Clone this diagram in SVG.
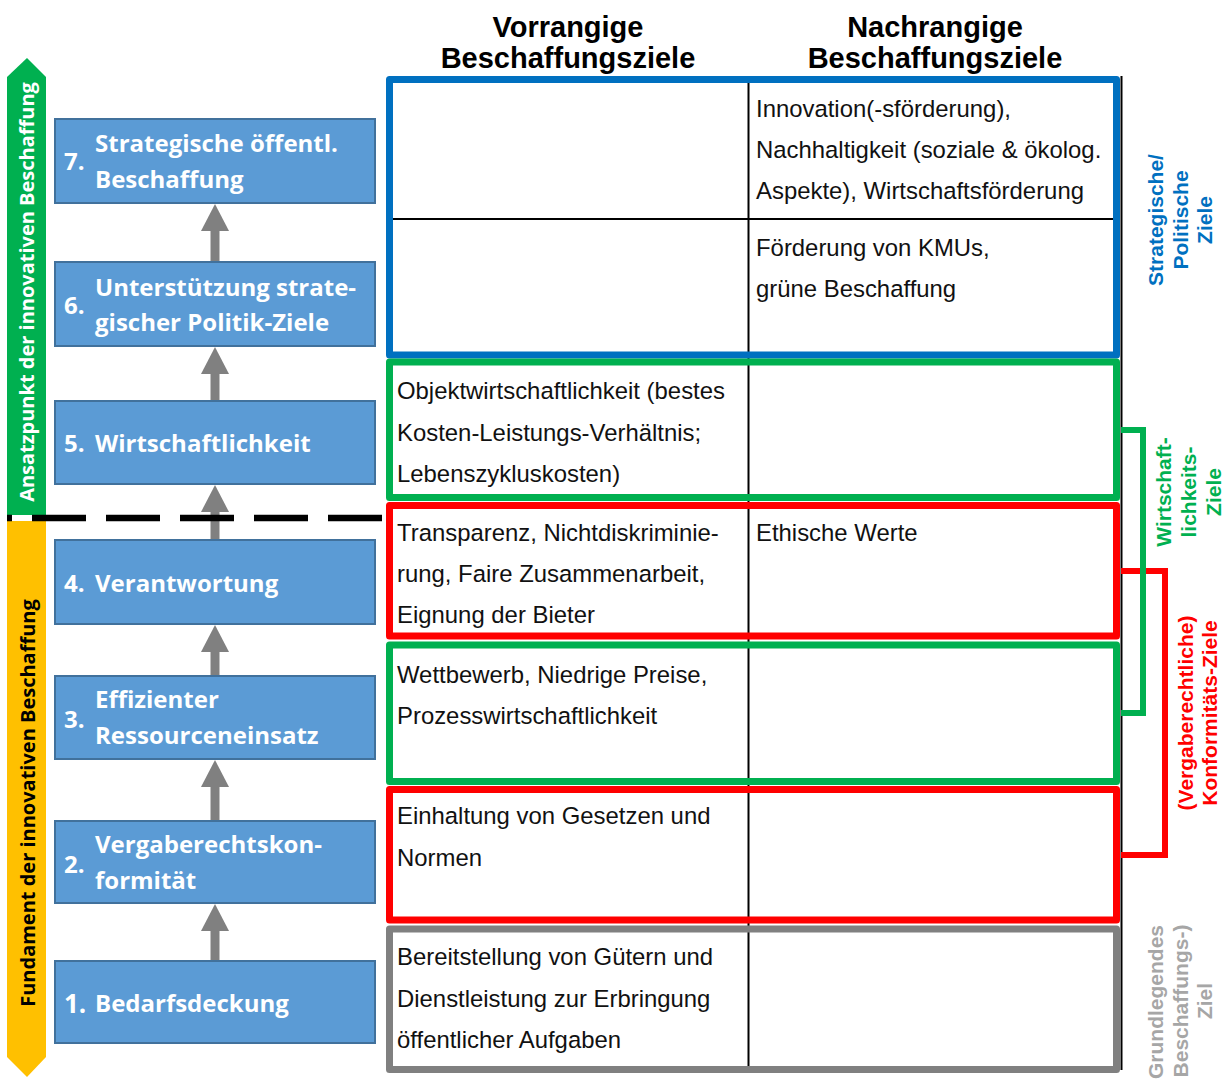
<svg xmlns="http://www.w3.org/2000/svg" width="1228" height="1079" viewBox="0 0 1228 1079">
  <style>
    .box { fill: #5B9BD5; stroke: #41719C; stroke-width: 2; }
    .bt { font-family: "Open Sans", "DejaVu Sans", sans-serif; font-weight: bold; font-size: 24px; fill: #FFFFFF; }
    .side { font-family: "Open Sans", "DejaVu Sans", sans-serif; font-weight: bold; font-size: 20px; text-anchor: middle; }
    .hdr { font-family: "Liberation Sans", Arial, sans-serif; font-weight: bold; font-size: 29px; text-anchor: middle; fill: #000; }
    .tt { font-family: "Liberation Sans", Arial, sans-serif; font-size: 23.9px; fill: #111; }
    .lbl { font-family: "Liberation Sans", Arial, sans-serif; font-weight: bold; font-size: 21px; text-anchor: middle; }
    .cell { fill: none; stroke-width: 7; stroke-linejoin: round; }
    .grid { stroke: #000; stroke-width: 2; fill: none; }
    .conn { stroke: #808080; stroke-width: 9; fill: none; }
  </style>
  <defs>
    <marker id="ah" viewBox="0 0 27 28" markerWidth="27" markerHeight="28" markerUnits="userSpaceOnUse" refX="1" refY="14" orient="auto">
      <path d="M0,0 L27,14 L0,28 Z" fill="#808080"/>
    </marker>
  </defs>

  <!-- left vertical bands -->
  <g id="band-ansatzpunkt">
    <polygon points="7,77 27,58 46,77 46,515 7,515" fill="#00B050"/>
    <text class="side" fill="#FFFFFF" transform="translate(34,292) rotate(-90)">Ansatzpunkt der innovativen Beschaffung</text>
  </g>
  <g id="band-fundament">
    <polygon points="7,521 46,521 46,1057 27,1077 7,1057" fill="#FFC000"/>
    <text class="side" fill="#000000" transform="translate(35,803) rotate(-90)">Fundament der innovativen Beschaffung</text>
  </g>

  <!-- connectors -->
  <g id="connectors">
    <line class="conn" x1="215" y1="262" x2="215" y2="230" marker-end="url(#ah)"/>
    <line class="conn" x1="215" y1="401" x2="215" y2="373" marker-end="url(#ah)"/>
    <line class="conn" x1="215" y1="540" x2="215" y2="511" marker-end="url(#ah)"/>
    <line class="conn" x1="215" y1="676" x2="215" y2="651" marker-end="url(#ah)"/>
    <line class="conn" x1="215" y1="821" x2="215" y2="786" marker-end="url(#ah)"/>
    <line class="conn" x1="215" y1="961" x2="215" y2="930" marker-end="url(#ah)"/>
  </g>

  <!-- steps -->
  <g id="step7">
    <rect class="box" x="55" y="119" width="320" height="84"/>
    <text class="bt" x="64" y="170">7.</text>
    <text class="bt" x="95" y="152">Strategische öffentl.</text>
    <text class="bt" x="95" y="188">Beschaffung</text>
  </g>
  <g id="step6">
    <rect class="box" x="55" y="262" width="320" height="84"/>
    <text class="bt" x="64" y="314">6.</text>
    <text class="bt" x="95" y="296">Unterstützung strate-</text>
    <text class="bt" x="95" y="331">gischer Politik-Ziele</text>
  </g>
  <g id="step5">
    <rect class="box" x="55" y="401" width="320" height="83"/>
    <text class="bt" x="64" y="452">5.</text>
    <text class="bt" x="95" y="452">Wirtschaftlichkeit</text>
  </g>
  <g id="step4">
    <rect class="box" x="55" y="540" width="320" height="84"/>
    <text class="bt" x="64" y="592">4.</text>
    <text class="bt" x="95" y="592">Verantwortung</text>
  </g>
  <g id="step3">
    <rect class="box" x="55" y="676" width="320" height="83"/>
    <text class="bt" x="64" y="728">3.</text>
    <text class="bt" x="95" y="708">Effizienter</text>
    <text class="bt" x="95" y="744">Ressourceneinsatz</text>
  </g>
  <g id="step2">
    <rect class="box" x="55" y="821" width="320" height="82"/>
    <text class="bt" x="64" y="873">2.</text>
    <text class="bt" x="95" y="853">Vergaberechtskon-</text>
    <text class="bt" x="95" y="889">formität</text>
  </g>
  <g id="step1">
    <rect class="box" x="55" y="961" width="320" height="82"/>
    <text class="bt" x="64" y="1013" style="font-size:26px">1.</text>
    <text class="bt" x="95" y="1012">Bedarfsdeckung</text>
  </g>

  <!-- dashed divider -->
  <line x1="7" y1="518" x2="383" y2="518" stroke="#000" stroke-width="6.5" stroke-dasharray="54 20" stroke-dashoffset="49"/>

  <!-- headers -->
  <g id="headers">
    <text class="hdr" x="568" y="37">Vorrangige</text>
    <text class="hdr" x="568" y="68">Beschaffungsziele</text>
    <text class="hdr" x="935" y="37">Nachrangige</text>
    <text class="hdr" x="935" y="68">Beschaffungsziele</text>
  </g>

  <!-- table grid -->
  <g id="table-grid">
    <line class="grid" x1="748.5" y1="83" x2="748.5" y2="1066"/>
    <line class="grid" x1="393" y1="219" x2="1113" y2="219"/>
    <line class="grid" x1="1121.5" y1="76" x2="1121.5" y2="1070"/>
  </g>

  <!-- cells -->
  <g id="row-strategisch">
    <rect class="cell" stroke="#0070C0" x="389.5" y="79.5" width="727" height="275.5"/>
    <text class="tt" x="756" y="117">Innovation(-sförderung),</text>
    <text class="tt" x="756" y="158">Nachhaltigkeit (soziale &amp; ökolog.</text>
    <text class="tt" x="756" y="199">Aspekte), Wirtschaftsförderung</text>
    <text class="tt" x="756" y="256">Förderung von KMUs,</text>
    <text class="tt" x="756" y="297">grüne Beschaffung</text>
  </g>
  <g id="row-objekt">
    <rect class="cell" stroke="#00B050" x="389.5" y="362" width="727" height="135.5"/>
    <text class="tt" x="397" y="399">Objektwirtschaftlichkeit (bestes</text>
    <text class="tt" x="397" y="441">Kosten-Leistungs-Verhältnis;</text>
    <text class="tt" x="397" y="482">Lebenszykluskosten)</text>
  </g>
  <g id="row-transparenz">
    <rect class="cell" stroke="#FF0000" x="389.5" y="505.5" width="727" height="130.5"/>
    <text class="tt" x="397" y="541">Transparenz, Nichtdiskriminie-</text>
    <text class="tt" x="397" y="582">rung, Faire Zusammenarbeit,</text>
    <text class="tt" x="397" y="623">Eignung der Bieter</text>
    <text class="tt" x="756" y="541">Ethische Werte</text>
  </g>
  <g id="row-wettbewerb">
    <rect class="cell" stroke="#00B050" x="389.5" y="645" width="727" height="136.5"/>
    <text class="tt" x="397" y="683">Wettbewerb, Niedrige Preise,</text>
    <text class="tt" x="397" y="724">Prozesswirtschaftlichkeit</text>
  </g>
  <g id="row-gesetze">
    <rect class="cell" stroke="#FF0000" x="389.5" y="789.5" width="727" height="130.5"/>
    <text class="tt" x="397" y="824">Einhaltung von Gesetzen und</text>
    <text class="tt" x="397" y="866">Normen</text>
  </g>
  <g id="row-bereitstellung">
    <rect class="cell" stroke="#808080" x="389.5" y="929" width="727" height="140.5"/>
    <text class="tt" x="397" y="965">Bereitstellung von Gütern und</text>
    <text class="tt" x="397" y="1007">Dienstleistung zur Erbringung</text>
    <text class="tt" x="397" y="1048">öffentlicher Aufgaben</text>
  </g>

  <!-- brackets -->
  <g id="brackets">
    <path d="M1121,571 H1165 V855 H1121" fill="none" stroke="#FF0000" stroke-width="6"/>
    <path d="M1121,430 H1143 V713 H1121" fill="none" stroke="#00B050" stroke-width="6"/>
  </g>

  <!-- right labels -->
  <g id="label-strategisch" fill="#0070C0">
    <text class="lbl" transform="translate(1163,220) rotate(-90)">Strategische/</text>
    <text class="lbl" transform="translate(1188,220) rotate(-90)">Politische</text>
    <text class="lbl" transform="translate(1212,220) rotate(-90)">Ziele</text>
  </g>
  <g id="label-wirtschaft" fill="#00B050">
    <text class="lbl" transform="translate(1171,492) rotate(-90)">Wirtschaft-</text>
    <text class="lbl" transform="translate(1196,492) rotate(-90)">lichkeits-</text>
    <text class="lbl" transform="translate(1221,492) rotate(-90)">Ziele</text>
  </g>
  <g id="label-konformitaet" fill="#FF0000">
    <text class="lbl" transform="translate(1193,713) rotate(-90)">(Vergaberechtliche)</text>
    <text class="lbl" transform="translate(1217,713) rotate(-90)">Konformitäts-Ziele</text>
  </g>
  <g id="label-grund" fill="#A6A6A6">
    <text class="lbl" transform="translate(1163,1002) rotate(-90)">Grundlegendes</text>
    <text class="lbl" transform="translate(1188,1001) rotate(-90)">Beschaffungs-)</text>
    <text class="lbl" transform="translate(1212,1001) rotate(-90)">Ziel</text>
  </g>
</svg>
